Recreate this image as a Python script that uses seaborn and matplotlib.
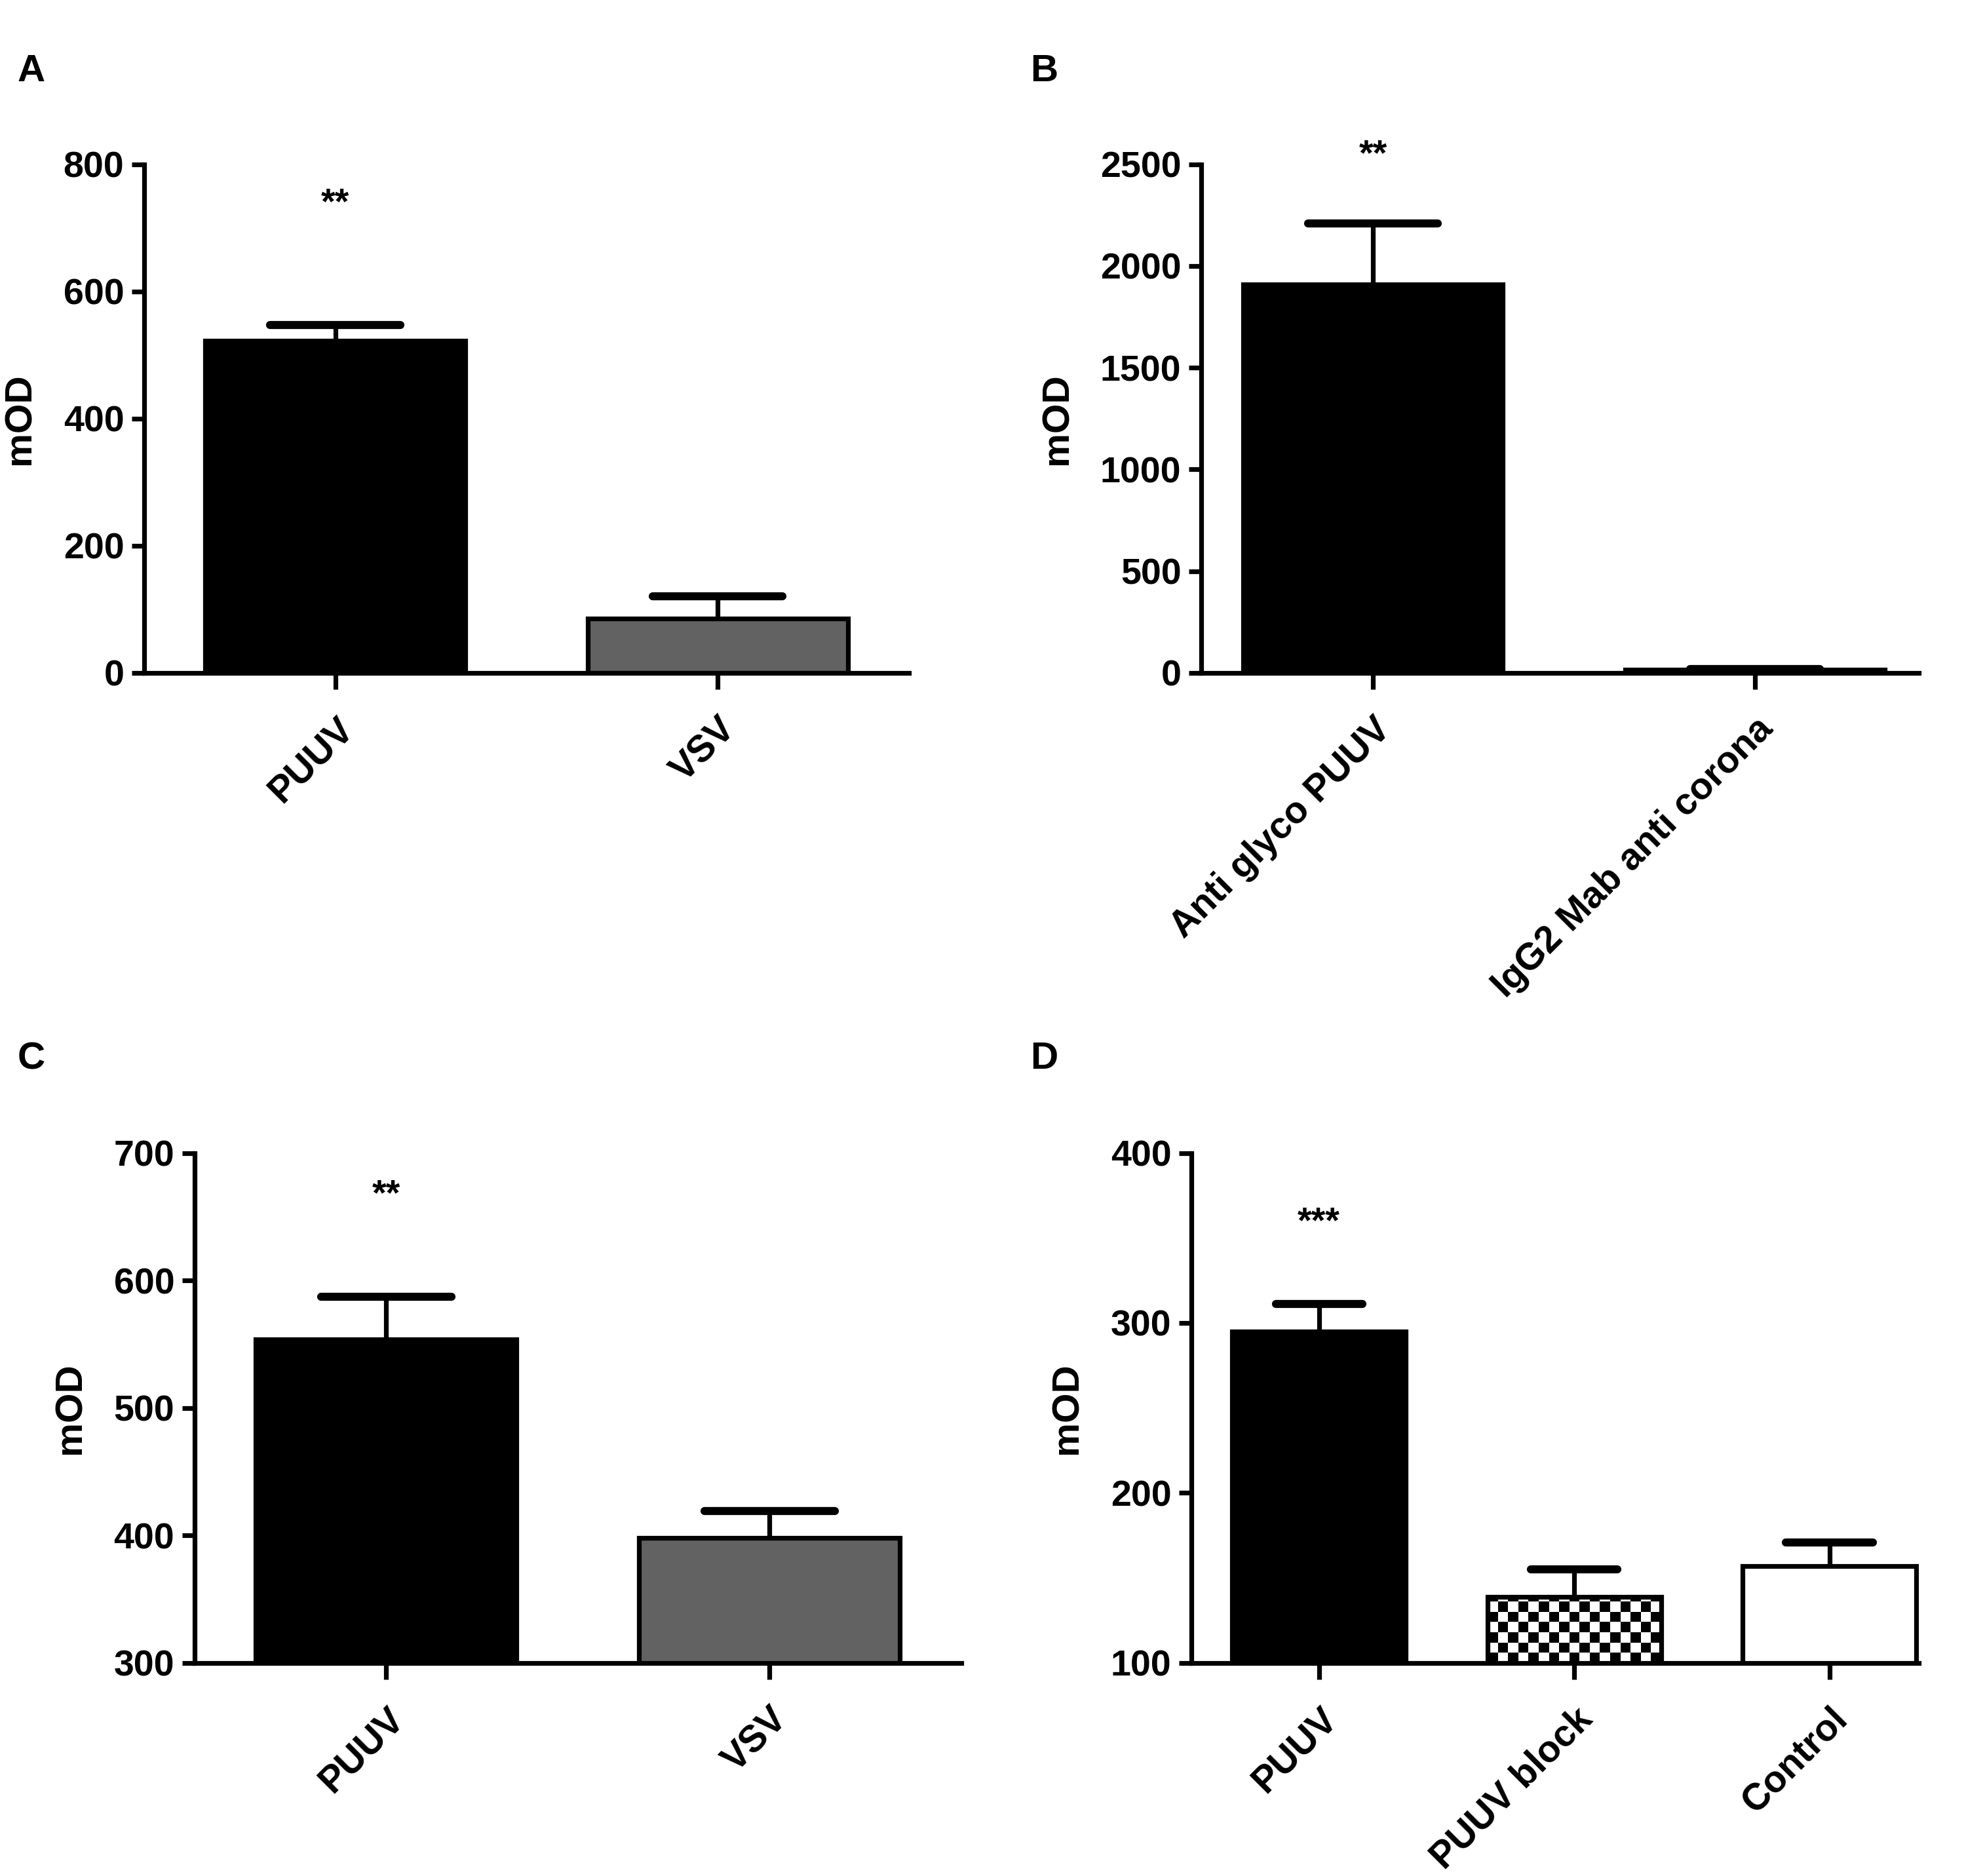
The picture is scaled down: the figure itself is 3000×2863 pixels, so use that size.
import numpy as np
import pandas as pd
import matplotlib
matplotlib.use("Agg")
import matplotlib.pyplot as plt
import seaborn as sns

# panel A
a_labels = ["PUUV", "VSV"]
a_means = [522, 85]
a_sem = [25, 36]
# panel B
b_labels = ["Anti glyco PUUV", "IgG2 Mab anti corona"]
b_means = [1910, 15]
b_sem = [300, 5]
# panel C
c_labels = ["PUUV", "VSV"]
c_means = [554, 398]
c_sem = [33, 21]
# panel D
d_labels = ["PUUV", "PUUV block", "Control"]
d_means = [295, 139, 157]
d_sem = [16, 16, 14]

sns.set_style("white")
plt.rcParams["font.family"] = ["Liberation Sans", "DejaVu Sans"]
plt.rcParams["font.weight"] = "bold"
plt.rcParams["text.color"] = "black"
plt.rcParams["axes.labelcolor"] = "black"
plt.rcParams["xtick.color"] = "black"
plt.rcParams["ytick.color"] = "black"
plt.rcParams["axes.edgecolor"] = "black"

W, H = 15, 14.315
DPI = 200
fig = plt.figure(figsize=(W, H), dpi=DPI)

LW = 2.6


def panel(rect, labels, means, sem, colors, ylim, yticks, xlim, star, star_y, bw=0.68):
    ax = fig.add_axes(rect)
    df = pd.DataFrame({"cat": labels, "val": means})
    sns.barplot(data=df, x="cat", y="val", hue="cat", palette=colors, legend=False,
                errorbar=None, width=bw, edgecolor="black", linewidth=LW, ax=ax)
    # upper error bars only, cap about half the bar width
    x = np.arange(len(labels))
    top = np.array(means) + np.array(sem)
    cap = bw * 0.5
    ax.vlines(x, means, top, color="black", linewidth=LW, zorder=0.5)
    ax.hlines(top, x - cap / 2, x + cap / 2, color="black", linewidth=LW * 1.7,
              capstyle="round", zorder=0.5)
    ax.set_xlim(*xlim)
    ax.set_ylim(*ylim)
    ax.set_yticks(yticks)
    ax.set_yticklabels([str(t) for t in yticks], fontsize=20, fontweight="bold")
    ax.set_xticks(x)
    ax.set_xticklabels(labels, rotation=45, ha="right", rotation_mode="anchor",
                       fontsize=20.5, fontweight="bold")
    ax.set_xlabel("")
    ax.set_ylabel("mOD", fontsize=21, fontweight="bold", labelpad=14)
    sns.despine(ax=ax)
    for s in ["left", "bottom"]:
        ax.spines[s].set_linewidth(LW)
    ax.tick_params(axis="both", direction="out", length=7, width=LW, pad=4,
                   bottom=True, left=True)
    ax.tick_params(axis="x", length=9, pad=12)
    ax.text(0, star_y, star, ha="center", va="center", fontsize=20, fontweight="bold",
            clip_on=False)
    return ax


axA = panel([0.0733, 0.6413, 0.389, 0.2712], a_labels, a_means, a_sem,
            ["black", "#626262"], (0, 800), [0, 200, 400, 600, 800], (-0.5, 1.5),
            "**", 737)
axB = panel([0.611, 0.6413, 0.365, 0.2712], b_labels, b_means, b_sem,
            ["black", "#626262"], (0, 2500), [0, 500, 1000, 1500, 2000, 2500], (-0.45, 1.43),
            "**", 2543)
axC = panel([0.0989, 0.1136, 0.39, 0.2718], c_labels, c_means, c_sem,
            ["black", "#626262"], (300, 700), [300, 400, 500, 600, 700], (-0.5, 1.5),
            "**", 667)
axD = panel([0.606, 0.1136, 0.37, 0.2718], d_labels, d_means, d_sem,
            ["black", "white", "white"], (100, 400), [100, 200, 300, 400], (-0.5, 2.35),
            "***", 359)

for lx, ly, letter in [(0.009, 0.962, "A"), (0.524, 0.962, "B"),
                       (0.009, 0.4355, "C"), (0.524, 0.4355, "D")]:
    fig.text(lx, ly, letter, fontsize=21, fontweight="bold", va="center")

# checkerboard fill for the blocked bar
p = axD.patches[1]
p.set_facecolor("none")
x0, w = p.get_x(), p.get_width()
checker = (np.indices((7, 17)).sum(axis=0) % 2).astype(float)
im = axD.imshow(checker, cmap="gray", extent=(x0, x0 + w, 100, 100 + 7 * 6), aspect="auto",
                interpolation="nearest", zorder=0.9, origin="lower")
im.set_clip_path(p)
axD.set_xlim(-0.5, 2.35)
axD.set_ylim(100, 400)

fig.savefig("out.png", dpi=DPI, facecolor="white")
